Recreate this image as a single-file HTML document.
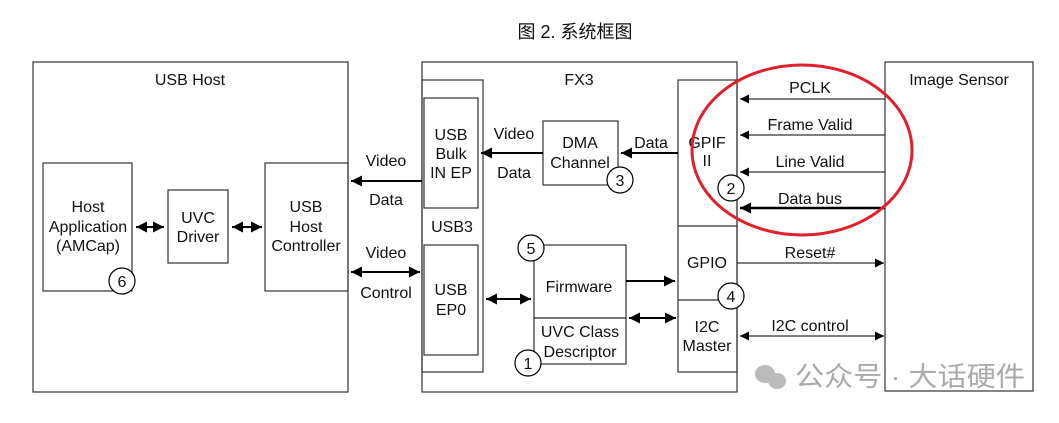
<!DOCTYPE html>
<html><head><meta charset="utf-8"><style>
body{margin:0;background:#fff;width:1059px;height:418px;overflow:hidden}
svg text{font-family:"Liberation Sans",Arial,sans-serif;font-size:16px;fill:#111}
</style></head><body>
<svg width="1059" height="418" viewBox="0 0 1059 418" xmlns="http://www.w3.org/2000/svg">
<defs>
<marker id="a" viewBox="0 0 10 10" refX="10" refY="5" markerWidth="9" markerHeight="9" markerUnits="userSpaceOnUse" orient="auto-start-reverse"><path d="M0,0L10,5L0,10z" fill="#000"/></marker>
<marker id="b" viewBox="0 0 10 10" refX="10" refY="5" markerWidth="11" markerHeight="11" markerUnits="userSpaceOnUse" orient="auto-start-reverse"><path d="M0,0L10,5L0,10z" fill="#000"/></marker>
</defs>
<text x="575" y="38" text-anchor="middle" style="font-family:'Liberation Sans','Noto Sans CJK SC',sans-serif;font-size:18px">图 2. 系统框图</text>
<g fill="none" stroke="#333" stroke-width="1.2">
<rect x="33" y="62" width="315" height="330"/>
<rect x="43" y="163" width="89" height="128"/>
<rect x="168" y="190" width="60" height="73"/>
<rect x="265" y="163" width="83" height="128"/>
<rect x="422" y="62" width="315" height="330"/>
<rect x="422" y="80" width="61" height="292"/>
<rect x="424" y="98" width="54" height="110"/>
<rect x="424" y="245" width="54" height="110"/>
<rect x="543" y="121" width="75" height="64"/>
<rect x="534" y="245" width="92" height="73"/>
<rect x="534" y="318" width="92" height="46"/>
<rect x="678" y="80" width="59" height="292"/>
<line x1="678" y1="226" x2="737" y2="226"/>
<line x1="678" y1="300" x2="737" y2="300"/>
<rect x="885" y="62" width="148" height="329"/>
</g>
<g stroke="#000" stroke-width="2" fill="none">
<line x1="136" y1="227" x2="164" y2="227" marker-start="url(#b)" marker-end="url(#b)"/>
<line x1="232" y1="227" x2="262" y2="227" marker-start="url(#b)" marker-end="url(#b)"/>
<line x1="422" y1="181" x2="351" y2="181" marker-end="url(#b)"/>
<line x1="351" y1="272" x2="420" y2="272" marker-start="url(#b)" marker-end="url(#b)"/>
<line x1="543" y1="153" x2="481" y2="153" marker-end="url(#b)"/>
<line x1="678" y1="153" x2="621" y2="153" marker-end="url(#b)"/>
<line x1="486" y1="299" x2="531" y2="299" marker-start="url(#b)" marker-end="url(#b)"/>
<line x1="626" y1="281" x2="675" y2="281" marker-end="url(#b)"/>
<line x1="629" y1="318" x2="676" y2="318" marker-start="url(#b)" marker-end="url(#b)"/>
<line x1="885" y1="208" x2="740" y2="208" marker-end="url(#b)" stroke-width="2.4"/>
</g>
<g stroke="#333" stroke-width="1.2" fill="none">
<line x1="885" y1="99" x2="740" y2="99" marker-end="url(#a)"/>
<line x1="885" y1="135" x2="740" y2="135" marker-end="url(#a)"/>
<line x1="885" y1="172" x2="740" y2="172" marker-end="url(#a)"/>
<line x1="737" y1="263" x2="884" y2="263" marker-end="url(#a)"/>
<line x1="740" y1="336" x2="884" y2="336" marker-start="url(#a)" marker-end="url(#a)"/>
</g>
<g fill="#fff" stroke="#000" stroke-width="1.2">
<circle cx="122" cy="281" r="13"/>
<circle cx="531" cy="248" r="13"/>
<circle cx="528" cy="363" r="13"/>
<circle cx="620" cy="180" r="13"/>
<circle cx="731" cy="188" r="13"/>
<circle cx="731" cy="296" r="13"/>
</g>
<g text-anchor="middle" style="font-size:18px">
<text x="122" y="287">6</text><text x="531" y="254">5</text><text x="528" y="369">1</text>
<text x="620" y="186">3</text><text x="731" y="194">2</text><text x="731" y="302">4</text>
</g>
<g text-anchor="middle">
<text x="190" y="85">USB Host</text>
<text x="88" y="212">Host</text><text x="88" y="232">Application</text><text x="88" y="251">(AMCap)</text>
<text x="198" y="223">UVC</text><text x="198" y="242">Driver</text>
<text x="306" y="212">USB</text><text x="306" y="232">Host</text><text x="306" y="251">Controller</text>
<text x="386" y="166">Video</text><text x="386" y="205">Data</text>
<text x="386" y="258">Video</text><text x="386" y="298">Control</text>
<text x="579" y="85">FX3</text>
<text x="451" y="140">USB</text><text x="451" y="159">Bulk</text><text x="451" y="178">IN EP</text>
<text x="452" y="232">USB3</text>
<text x="451" y="295">USB</text><text x="451" y="315">EP0</text>
<text x="514" y="139">Video</text><text x="514" y="178">Data</text>
<text x="580" y="148">DMA</text><text x="580" y="168">Channel</text>
<text x="651" y="148">Data</text>
<text x="707" y="148">GPIF</text><text x="707" y="166">II</text>
<text x="579" y="292">Firmware</text>
<text x="580" y="337">UVC Class</text><text x="580" y="357">Descriptor</text>
<text x="707" y="268">GPIO</text>
<text x="707" y="332">I2C</text><text x="707" y="351">Master</text>
<text x="810" y="93">PCLK</text>
<text x="810" y="130">Frame Valid</text>
<text x="810" y="167">Line Valid</text>
<text x="810" y="204">Data bus</text>
<text x="810" y="258">Reset#</text>
<text x="810" y="331">I2C control</text>
<text x="959" y="85">Image Sensor</text>
</g>
<ellipse cx="802" cy="150" rx="110" ry="85" fill="none" stroke="#e0202a" stroke-width="3"/>
<g fill="#bbb"><ellipse cx="765" cy="374" rx="10" ry="9"/><ellipse cx="777" cy="381" rx="9" ry="8"/></g>
<text x="795" y="386" textLength="230" lengthAdjust="spacingAndGlyphs" style="font-family:'Liberation Sans','Noto Sans CJK SC',sans-serif;font-size:27px;fill:#aaa">公众号 · 大话硬件</text>
</svg>
</body></html>
